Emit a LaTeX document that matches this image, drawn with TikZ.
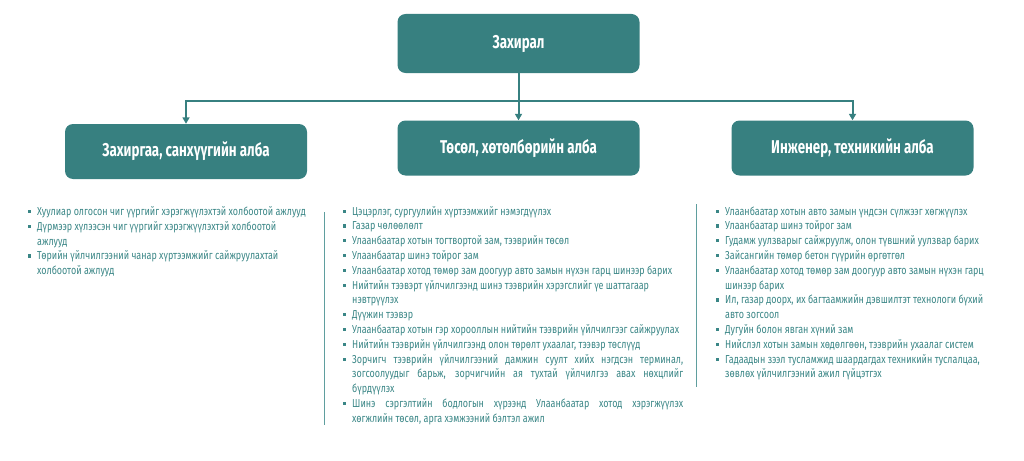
\documentclass[tikz,border=0pt]{standalone}
\usepackage{fontspec}
\setmainfont{Fira Sans}[FakeStretch=0.78]
\newfontfamily\boxfont{Fira Sans}[FakeStretch=0.72]
\usetikzlibrary{arrows.meta}
\definecolor{teal1}{RGB}{55,128,128}
\definecolor{txtc}{RGB}{58,134,134}
\definecolor{sepc}{RGB}{95,158,158}
\newcommand\bitem[4]{\node[bul] (#1b) at (#2-7.5,#3-3.9) {}; \node[tl] (#1) at (#2,#3) {#4};}
\newcommand\citem[4]{\node[tl] (#1) at (#2,#3) {#4};}
\begin{document}
\begin{tikzpicture}[x=1pt,y=-1pt,
  box/.style={fill=teal1, rounded corners=8pt, minimum width=242pt, text=white,
    font=\boxfont\fontsize{18.5}{20}\selectfont\bfseries, inner sep=0pt},
  conn/.style={draw=teal1, line width=2pt},
  arr/.style={conn, -{Triangle[width=7pt,length=6.5pt]}},
  arrs/.style={conn, {Triangle[width=7pt,length=6.5pt]}-{Triangle[width=7pt,length=6.5pt]}},
  tl/.style={anchor=base west, inner sep=0pt, text=txtc, font=\fontsize{11.5}{12}\selectfont},
  bul/.style={fill=txtc, minimum size=3.2pt, inner sep=0pt},
  sep/.style={draw=sepc, line width=1pt}]
\useasboundingbox (0,0) rectangle (1024,460);

% boxes
\node[box, minimum height=59pt] (top) at (518.5,43.5) {Захирал};
\node[box, minimum height=55pt] (left) at (186,151.5) {Захиргаа, санхүүгийн алба};
\node[box, minimum height=55pt] (mid) at (518.5,148) {Төсөл, хөтөлбөрийн алба};
\node[box, minimum height=55pt] (right) at (852.5,148) {Инженер, техникийн алба};

% connectors
\coordinate (hl) at (186,101);
\coordinate (hr) at (852.5,101);
\draw[arr] (top.south) -- (mid.north);
\draw[arrs] (left.north) -- (hl) -- (hr) -- (right.north);

% separators
\coordinate (s1a) at (324,212);
\coordinate (s1b) at (324,425);
\coordinate (s2a) at (696,204);
\coordinate (s2b) at (696,387);
\draw[sep] (s1a) -- (s1b);
\draw[sep] (s2a) -- (s2b);

% left column
\bitem{l0}{37}{215.5}{Хуулиар олгосон чиг үүргийг хэрэгжүүлэхтэй холбоотой ажлууд}
\bitem{l1}{37}{230.3}{Дүрмээр хүлээсэн чиг үүргийг хэрэгжүүлэхтэй холбоотой}
\citem{l2}{37}{245.1}{ажлууд}
\bitem{l3}{37}{259.9}{Төрийн үйлчилгээний чанар хүртээмжийг сайжруулахтай}
\citem{l4}{37}{274.7}{холбоотой ажлууд}

% middle column
\bitem{m0}{352}{215}{Цэцэрлэг, сургуулийн хүртээмжийг нэмэгдүүлэх}
\bitem{m1}{352}{229.8}{Газар чөлөөлөлт}
\bitem{m2}{352}{244.6}{Улаанбаатар хотын тогтвортой зам, тээврийн төсөл}
\bitem{m3}{352}{259.4}{Улаанбаатар шинэ тойрог зам}
\bitem{m4}{352}{274.2}{Улаанбаатар хотод төмөр зам доогуур авто замын нүхэн гарц шинээр барих}
\bitem{m5}{352}{289}{Нийтийн тээвэрт үйлчилгээнд шинэ тээврийн хэрэгслийг үе шаттагаар}
\citem{m6}{352}{303.8}{нэвтрүүлэх}
\bitem{m7}{352}{318.6}{Дүүжин тээвэр}
\bitem{m8}{352}{333.4}{Улаанбаатар хотын гэр хорооллын нийтийн тээврийн үйлчилгээг сайжруулах}
\bitem{m9}{352}{348.2}{Нийтийн тээврийн үйлчилгээнд олон төрөлт ухаалаг, тээвэр төслүүд}
\bitem{m10}{352}{363}{\makebox[331pt][s]{Зорчигч тээврийн үйлчилгээний дамжин суулт хийх нэгдсэн терминал,}}
\citem{m11}{352}{377.8}{\makebox[331pt][s]{зогсоолуудыг барьж, зорчигчийн ая тухтай үйлчилгээ авах нөхцлийг}}
\citem{m12}{352}{392.6}{бүрдүүлэх}
\bitem{m13}{352}{407.4}{\makebox[331pt][s]{Шинэ сэргэлтийн бодлогын хүрээнд Улаанбаатар хотод хэрэгжүүлэх}}
\citem{m14}{352}{422.2}{хөгжлийн төсөл, арга хэмжээний бэлтэл ажил}

% right column
\bitem{r0}{725}{215}{Улаанбаатар хотын авто замын үндсэн сүлжээг хөгжүүлэх}
\bitem{r1}{725}{229.8}{Улаанбаатар шинэ тойрог зам}
\bitem{r2}{725}{244.6}{Гудамж уулзварыг сайжруулж, олон түвшний уулзвар барих}
\bitem{r3}{725}{259.4}{Зайсангийн төмөр бетон гүүрийн өргөтгөл}
\bitem{r4}{725}{274.2}{Улаанбаатар хотод төмөр зам доогуур авто замын нүхэн гарц}
\citem{r5}{725}{289}{шинээр барих}
\bitem{r6}{725}{303.8}{Ил, газар доорх, их багтаамжийн дэвшилтэт технологи бүхий}
\citem{r7}{725}{318.6}{авто зогсоол}
\bitem{r8}{725}{333.4}{Дугуйн болон явган хүний зам}
\bitem{r9}{725}{348.2}{Нийслэл хотын замын хөдөлгөөн, тээврийн ухаалаг систем}
\bitem{r10}{725}{363}{Гадаадын зээл тусламжид шаардагдах техникийн туслалцаа,}
\citem{r11}{725}{377.8}{зөвлөх үйлчилгээний ажил гүйцэтгэх}
\end{tikzpicture}
\end{document}
